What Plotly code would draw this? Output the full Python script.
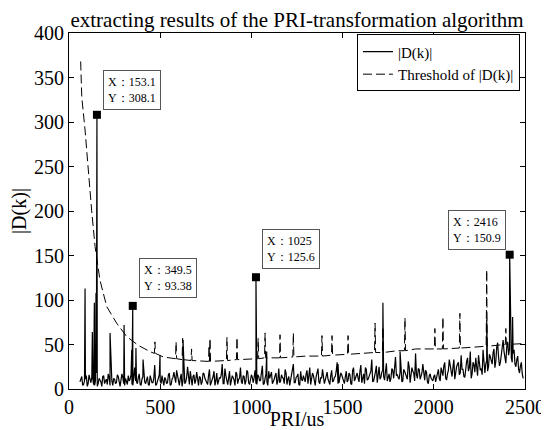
import plotly.graph_objects as go

FONT = "Liberation Serif, Times New Roman, serif"

# ---- |D(k)| : noise floor, read every 5 us (two interleaved lists) ----
noise_start = 60
noise_step = 10
noise_val_a = [  # 60, 70, ... 2490
    8, 14, 5, 11, 3, 16, 7, 12, 4, 18, 6, 10, 3, 15, 9, 5, 13, 22, 4, 11, 7, 14, 3,
    17, 6, 12, 5, 9, 16, 4, 24, 8, 13, 5, 11, 19, 6, 14, 4, 10, 7, 27, 5, 12, 9,
    15, 4, 11, 7, 18, 5, 13, 9, 21, 6, 12, 3, 16, 8, 25, 5, 11, 14, 6, 19, 4, 13, 8,
    17, 10, 5, 22, 7, 14, 4, 18, 9, 12, 28, 6, 15, 5, 20, 8, 13, 4, 17, 11, 24, 6, 14,
    9, 19, 5, 16,
    7, 21, 5, 14, 10, 26, 6, 17, 4, 12, 19, 8, 15, 5, 23, 9, 13, 6, 18, 11, 4, 16, 28,
    7, 14, 5, 20, 9, 12, 17, 6, 24, 10, 15, 4, 19, 8, 13, 22, 6, 16, 11, 5, 21, 9, 14,
    30, 7, 18, 12,
    6, 20, 10, 16, 5, 24, 12, 18, 8, 27, 14, 6, 22, 11, 17, 33, 9, 19, 7, 25, 13, 21,
    10, 29, 15, 8, 23, 12, 36, 16, 11, 26, 9, 20, 14, 31, 7, 24, 18, 40, 12, 22, 15,
    28, 10, 19, 6, 17, 11, 14,
    8, 18, 12, 24, 15, 30, 10, 21, 26, 14, 33, 19, 28, 16, 38, 22, 13, 31, 20, 42, 17,
    27, 35, 15, 29, 23, 44, 18, 32, 25,
    36, 28, 45, 31, 52, 26, 40, 55, 34, 48, 38, 58, 30, 44, 25, 37, 18, 30, 12,
]
noise_val_b = [  # 65, 75, ... 2485
    12, 4, 9, 15, 6, 10, 13, 5, 9, 3, 12, 8, 14, 6, 11, 17, 4, 9, 12, 6, 16, 5, 10,
    13, 4, 8, 15, 11, 5, 13, 9, 6, 17, 4, 14, 8, 10, 5, 15, 7, 12, 4, 9, 16, 6,
    9, 13, 6, 16, 4, 11, 19, 7, 14, 4, 17, 10, 6, 13, 9, 20, 4, 16, 10, 7, 14, 5, 18,
    12, 7, 15, 4, 11, 20, 9, 5, 13, 16, 6, 23, 8, 12, 4, 15, 10, 19, 6, 12, 8, 15, 5,
    21, 7, 11, 13,
    13, 6, 16, 9, 19, 5, 12, 8, 20, 15, 6, 11, 18, 9, 7, 16, 12, 22, 5, 14, 10, 19, 7,
    13, 17, 4, 11, 15, 8, 21, 13, 5, 18, 9, 14, 23, 6, 12, 16, 10, 19, 7, 15, 8, 13,
    20, 6, 11, 16, 9,
    14, 8, 18, 6, 21, 9, 15, 12, 20, 7, 17, 24, 10, 15, 20, 8, 13, 26, 16, 11, 19, 14,
    24, 9, 17, 12, 21, 30, 15, 13, 19, 8, 22, 17, 11, 25, 15, 20, 9, 16, 23, 11, 18,
    13, 21, 8, 15, 12, 9, 16,
    14, 22, 9, 19, 26, 12, 17, 33, 16, 24, 11, 25, 30, 18, 22, 14, 27, 35, 24, 12, 30,
    19, 25, 38, 21, 16, 34, 28, 20, 39,
    30, 41, 24, 47, 36, 30, 50, 42, 29, 53, 45, 35, 40, 28, 33, 22, 26, 17,
]

# ---- |D(k)| : isolated peaks ----
spike_pri = [88, 128, 139, 148, 153.1, 225, 302, 344, 349.5, 367, 406, 499, 625,
             1025, 1084, 1475, 1721, 1815, 2290, 2416, 2432]
spike_val = [113, 64, 97, 108, 308.1, 63, 72, 44, 93.38, 46, 33, 38, 55,
             125.6, 42, 28, 97, 42, 78, 150.9, 81]

# ---- threshold of |D(k)| ----
thr_pri = [64, 70, 88, 106, 124, 143, 170, 207, 261, 316, 380, 444,
           468, 471, 474, 517, 584, 587, 590, 620, 623, 626, 650, 669, 672, 675,
           765, 768, 770, 773, 776, 863, 866, 869, 918, 921, 924, 1000,
           1034, 1037, 1040, 1072, 1075, 1078, 1154, 1157, 1160, 1227, 1230, 1233,
           1300, 1384, 1387, 1390, 1439, 1442, 1445, 1527, 1530, 1533, 1600,
           1675, 1678, 1681, 1718, 1721, 1724, 1800, 1839, 1842, 1845, 1900,
           2003, 2006, 2009, 2047, 2050, 2053, 2140, 2143, 2146, 2200,
           2287, 2290, 2293, 2392, 2395, 2398, 2490]
thr_val = [368, 328, 291, 242, 201, 160, 122, 92.5, 74, 59, 49, 42,
           40, 53, 40, 36, 34, 53, 34, 33, 57, 33, 32, 32, 45, 32,
           31, 49, 31, 57, 31, 32, 58, 32, 33, 58, 33, 34,
           34, 57, 34, 35, 63, 35, 35, 61, 35, 36, 63, 36,
           37, 37, 60, 37, 38, 60, 38, 39, 60, 39, 40,
           41, 74, 41, 41, 70, 41, 43, 43, 80, 43, 45,
           45, 68, 45, 45, 81, 45, 46, 85, 46, 47,
           48, 134, 48, 50, 68, 50, 51]

# ---- data tips ----
tip_pri = [153.1, 349.5, 1025, 2416]
tip_val = [308.1, 93.38, 125.6, 150.9]
tip_xlabel = ["153.1", "349.5", "1025", "2416"]
tip_ylabel = ["308.1", "93.38", "125.6", "150.9"]

x_ticks = [0, 500, 1000, 1500, 2000, 2500]
y_ticks = [0, 50, 100, 150, 200, 250, 300, 350, 400]

# merge noise and peaks into one ordered series
pri_a = [noise_start + i * noise_step for i in range(len(noise_val_a))]
pri_b = [noise_start + noise_step // 2 + i * noise_step for i in range(len(noise_val_b))]
pairs = sorted(zip(pri_a + pri_b + spike_pri, noise_val_a + noise_val_b + spike_val))
sig_x = [p[0] for p in pairs]
sig_y = [p[1] for p in pairs]

fig = go.Figure()
fig.add_trace(go.Scatter(x=sig_x, y=sig_y, mode="lines",
                         line=dict(color="black", width=1.2), name="|D(k)|"))
fig.add_trace(go.Scatter(x=thr_pri, y=thr_val, mode="lines",
                         line=dict(color="black", width=1, dash="9px,4px"),
                         name="Threshold of |D(k)|"))
fig.add_trace(go.Scatter(x=tip_pri, y=tip_val, mode="markers",
                         marker=dict(symbol="square", size=8, color="black"),
                         showlegend=False, hoverinfo="skip"))

tip_style = [
    dict(xanchor="left", yanchor="bottom", xshift=6, yshift=5),
    dict(xanchor="left", yanchor="bottom", xshift=6, yshift=8),
    dict(xanchor="left", yanchor="bottom", xshift=6, yshift=8),
    dict(xanchor="right", yanchor="bottom", xshift=-4, yshift=5),
]
for px, py, lx, ly, st in zip(tip_pri, tip_val, tip_xlabel, tip_ylabel, tip_style):
    fig.add_annotation(x=px, y=py, xref="x", yref="y", showarrow=False,
                       text="X：" + lx + "<br>Y：" + ly, align="left",
                       font=dict(family=FONT, size=12, color="black"),
                       bgcolor="white", bordercolor="#555555", borderwidth=1,
                       borderpad=4, **st)

axis_common = dict(showline=True, linecolor="black", linewidth=1, mirror="ticks",
                   ticks="inside", ticklen=5, tickcolor="black", showgrid=False,
                   zeroline=False, automargin=False,
                   tickfont=dict(family=FONT, size=20, color="black"))

# the page body adds an 8px offset, so the figure is 8px smaller than the window
fig.update_layout(
    width=541, height=422,
    margin=dict(l=61, r=24, t=25, b=41),
    font=dict(family=FONT, color="black"),
    paper_bgcolor="white", plot_bgcolor="white",
    title=dict(text="extracting results of the PRI-transformation algorithm",
               x=0.5, xref="paper", xanchor="center",
               y=1 - 11.5 / 422, yref="container", yanchor="middle",
               automargin=False,
               font=dict(family=FONT, size=21, color="black")),
    xaxis=dict(range=[0, 2500], tickvals=x_ticks,
               title=dict(text="PRI/us", standoff=0,
                          font=dict(family=FONT, size=20, color="black")),
               **axis_common),
    yaxis=dict(range=[0, 400], tickvals=y_ticks,
               title=dict(text="|D(k)|", standoff=2,
                          font=dict(family=FONT, size=20, color="black")),
               **axis_common),
    legend=dict(x=0.989, xanchor="right", y=0.996, yanchor="top",
                bordercolor="black", borderwidth=1, bgcolor="white",
                font=dict(family=FONT, size=15, color="black")),
    showlegend=True,
)

fig.write_html("out.html")
